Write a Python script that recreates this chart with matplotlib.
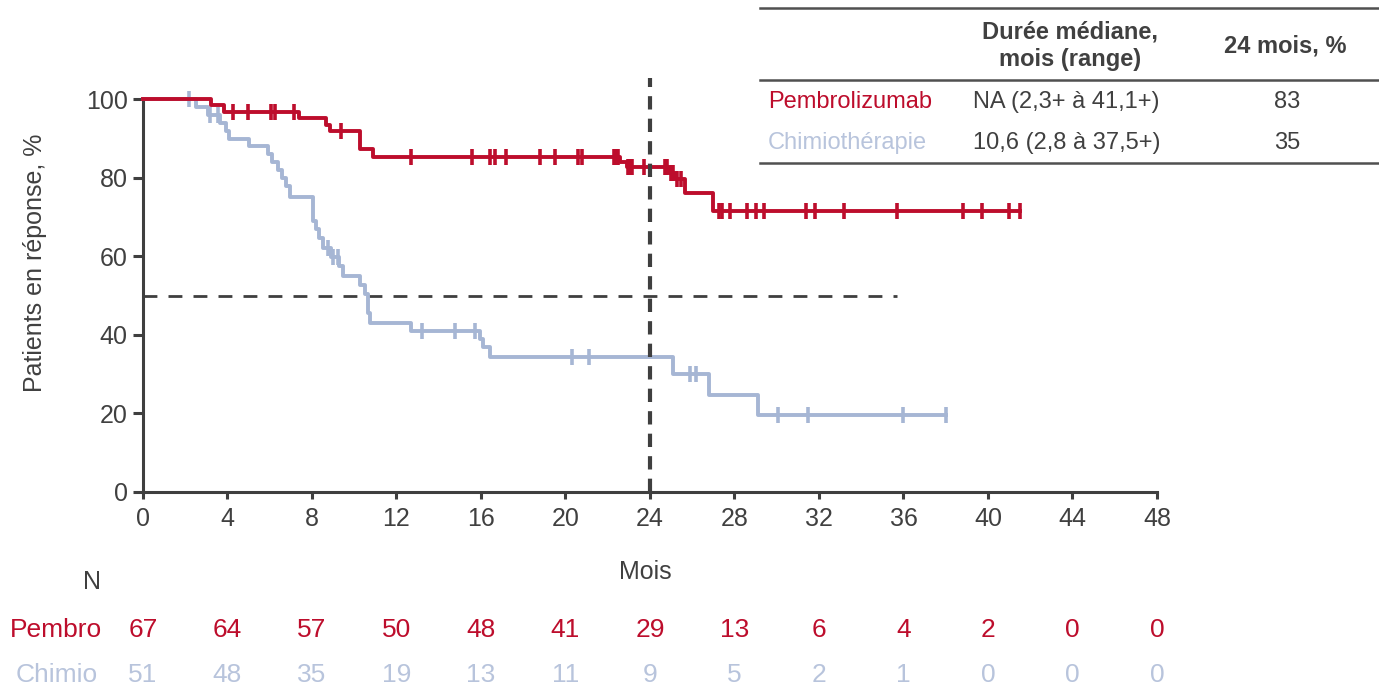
import numpy as np
import matplotlib
matplotlib.use("Agg")
import matplotlib.pyplot as plt
from matplotlib.lines import Line2D

plt.rcParams['font.family'] = ['Liberation Sans', 'DejaVu Sans']

# Kaplan-Meier steps (months, % in response)
pembro_t = [0, 3.2, 3.83, 7.4, 8.67, 8.83, 10.25, 10.89, 22.6, 22.9, 24.9, 25.2, 25.65, 27.0, 41.5]
pembro_s = [100, 98.5, 96.8, 95.2, 93.5, 92.0, 87.3, 85.3, 84.0, 82.8, 81.2, 79.6, 76.1, 71.5, 71.5]
pembro_cens = [4.27, 4.97, 6.05, 6.24, 7.16, 9.35, 12.71, 15.57, 16.42, 16.68, 17.19, 18.77, 19.48,
               20.59, 20.76, 22.3, 22.4, 22.5, 22.95, 23.05, 23.15, 23.7, 24.7, 24.8, 25.0, 25.1,
               25.3, 25.45, 27.25, 27.4, 27.8, 28.6, 29.0, 29.4, 31.4, 31.8, 33.2, 35.7, 38.8,
               39.7, 41.0, 41.5]

chemo_t = [0, 2.52, 3.06, 3.63, 3.95, 4.05, 5.0, 5.9, 6.13, 6.37, 6.6, 6.76, 6.97, 8.03, 8.2, 8.35,
           8.5, 8.9, 9.3, 9.46, 10.25, 10.5, 10.65, 10.73, 12.7, 15.97, 16.1, 16.44, 25.1, 26.8,
           29.1, 38.0]
chemo_s = [100, 98.0, 96.0, 94.0, 92.0, 89.8, 88.0, 86.1, 84.1, 82.1, 80.0, 77.8, 75.2, 68.9, 67.0,
           64.6, 62.1, 59.7, 57.4, 55.0, 52.6, 50.3, 45.5, 43.0, 41.0, 39.0, 37.0, 34.3, 30.0, 24.6,
           19.5, 19.5]
chemo_cens = [2.16, 3.16, 3.54, 8.75, 8.98, 9.22, 13.19, 14.78, 15.73, 20.33, 21.13, 25.9, 26.2,
              30.05, 31.5, 36.0, 38.0]

risk_months = [0, 4, 8, 12, 16, 20, 24, 28, 32, 36, 40, 44, 48]
risk_pembro = [67, 64, 57, 50, 48, 41, 29, 13, 6, 4, 2, 0, 0]
risk_chemo = [51, 48, 35, 19, 13, 11, 9, 5, 2, 1, 0, 0, 0]

table_rows = ['Pembrolizumab', 'Chimiothérapie']
table_median = ['NA (2,3+ à 41,1+)', '10,6 (2,8 à 37,5+)']
table_24 = ['83', '35']

red = '#bd0d2c'
blue = '#a6b6d4'
blue_txt = '#b8c4dc'
grey = '#3f3f3f'
txt = '#404040'

W, H = 1379, 688


def fx(x):
    return x / W


def fy(y):
    return 1 - y / H


fig = plt.figure(figsize=(W / 100, H / 100), dpi=100, facecolor='white')
ax = fig.add_axes([fx(143), fy(491.7), fx(1157) - fx(143), fy(99.3) - fy(491.7)])


def at(ts, ss, x):
    i = np.searchsorted(ts, x, side='right') - 1
    return ss[i]


# curves
ax.step(chemo_t, chemo_s, where='post', color=blue, lw=2.8, clip_on=False, zorder=3)
ax.plot(chemo_cens, [at(chemo_t, chemo_s, c) for c in chemo_cens], ls='none', marker='|',
        ms=12, mew=2.6, color=blue, clip_on=False, zorder=3)
ax.step(pembro_t, pembro_s, where='post', color=red, lw=2.8, clip_on=False, zorder=4)
ax.plot(pembro_cens, [at(pembro_t, pembro_s, c) for c in pembro_cens], ls='none', marker='|',
        ms=12, mew=2.6, color=red, clip_on=False, zorder=4)

# reference lines
ax.plot([0, 35.7], [50, 50], color=grey, lw=2, dashes=(5, 4), zorder=2)
ax.plot([24, 24], [0, 105.5], color=grey, lw=3, dashes=(3.2, 2.2), clip_on=False, zorder=5)

ax.set_xlim(0, 48)
ax.set_ylim(0, 100)
ax.set_xticks(range(0, 49, 4))
ax.set_yticks(range(0, 101, 20))
for s in ['top', 'right']:
    ax.spines[s].set_visible(False)
for s in ['left', 'bottom']:
    ax.spines[s].set_color(grey)
    ax.spines[s].set_linewidth(2.2)
ax.tick_params(axis='both', colors=grey, labelcolor=txt, labelsize=18, width=2.2)
ax.tick_params(axis='y', length=7, pad=4)
ax.tick_params(axis='x', length=5, pad=6)

fig.text(fx(35), fy(263), 'Patients en réponse, %', rotation=90, ha='center', va='center',
         fontsize=18, color=txt)
fig.text(fx(645), fy(572), 'Mois', ha='center', va='center', fontsize=18, color=txt)

# number at risk
fig.text(fx(92), fy(582), 'N', ha='center', va='center', fontsize=18, color=txt)
fig.text(fx(102), fy(630), 'Pembro', ha='right', va='center', fontsize=19, color=red)
fig.text(fx(98), fy(675), 'Chimio', ha='right', va='center', fontsize=19, color=blue_txt)
for m, p, c in zip(risk_months, risk_pembro, risk_chemo):
    xpix = ax.transData.transform((m, 0))[0]
    fig.text(xpix / W, fy(630), str(p), ha='center', va='center', fontsize=19, color=red)
    fig.text(xpix / W, fy(675), str(c), ha='center', va='center', fontsize=19, color=blue_txt)

# summary table
for yy in [8, 80, 163]:
    fig.add_artist(Line2D([fx(760), 1], [fy(yy), fy(yy)], color='#505050', lw=1.8))
fig.text(fx(1070), fy(46), 'Durée médiane,\nmois (range)', ha='center', va='center',
         fontsize=17, fontweight='bold', color=txt, linespacing=1.25)
fig.text(fx(1285), fy(46), '24 mois, %', ha='center', va='center', fontsize=17,
         fontweight='bold', color=txt)
row_y = [102, 143]
row_col = [red, blue_txt]
for name, med, v, yy, col in zip(table_rows, table_median, table_24, row_y, row_col):
    fig.text(fx(768), fy(yy), name, ha='left', va='center', fontsize=17, color=col)
    fig.text(fx(973), fy(yy), med, ha='left', va='center', fontsize=17, color=txt)
    fig.text(fx(1287), fy(yy), v, ha='center', va='center', fontsize=17, color=txt)

fig.savefig('out.png', dpi=100, facecolor='white')
